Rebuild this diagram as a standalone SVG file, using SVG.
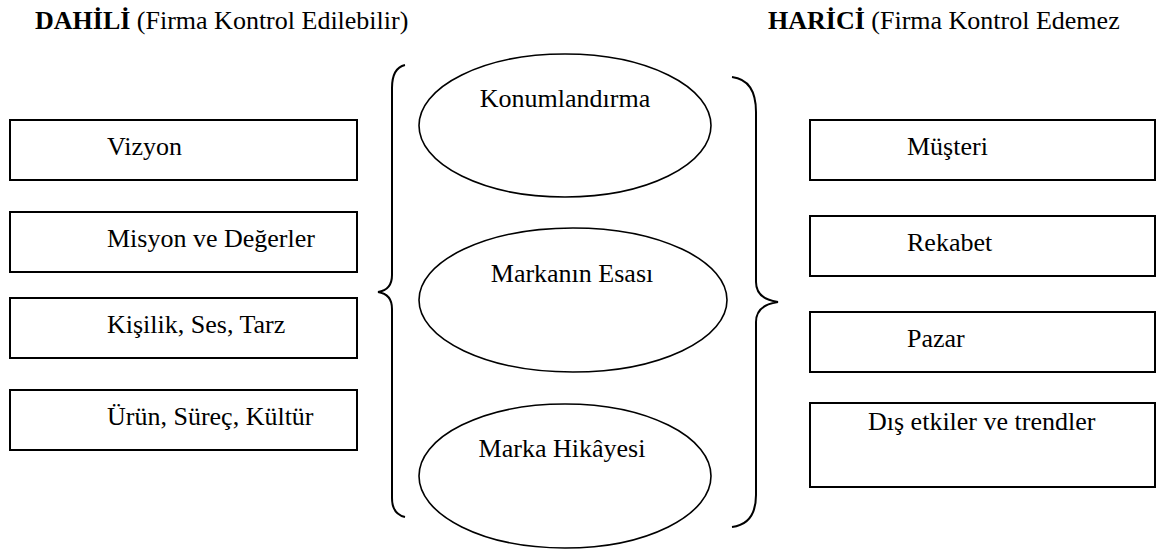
<svg xmlns="http://www.w3.org/2000/svg" width="1157" height="550" viewBox="0 0 1157 550" font-family="Times New Roman, Liberation Serif, serif">
<rect width="1157" height="550" fill="#fff"/>
<g id="headers">
<text x="35" y="29" font-family="Tinos, Liberation Serif, serif" font-size="26"><tspan font-weight="bold">DAHİLİ</tspan><tspan font-weight="normal"> (Firma Kontrol Edilebilir)</tspan></text>
<text x="768" y="29" font-family="Tinos, Liberation Serif, serif" font-size="26"><tspan font-weight="bold">HARİCİ</tspan><tspan font-weight="normal"> (Firma Kontrol Edemez</tspan></text>
</g>
<g id="n-vizyon"><rect x="10" y="120" width="347" height="60" fill="#fff" stroke="#000" stroke-width="2"/><text x="107" y="155" font-family="Tinos, Liberation Serif, serif" font-size="26">Vizyon</text></g>
<g id="n-misyon"><rect x="10" y="212" width="347" height="60" fill="#fff" stroke="#000" stroke-width="2"/><text x="107" y="247" font-family="Tinos, Liberation Serif, serif" font-size="26">Misyon ve Değerler</text></g>
<g id="n-kisilik"><rect x="10" y="298" width="347" height="60" fill="#fff" stroke="#000" stroke-width="2"/><text x="107" y="333" font-family="Tinos, Liberation Serif, serif" font-size="26">Kişilik, Ses, Tarz</text></g>
<g id="n-urun"><rect x="10" y="390" width="347" height="60" fill="#fff" stroke="#000" stroke-width="2"/><text x="107" y="425" font-family="Tinos, Liberation Serif, serif" font-size="26">Ürün, Süreç, Kültür</text></g>
<g id="n-konum"><ellipse cx="565" cy="125.5" rx="146" ry="71.5" fill="#fff" stroke="#000" stroke-width="1.6"/><text text-anchor="middle" x="565" y="107" font-family="Tinos, Liberation Serif, serif" font-size="26">Konumlandırma</text></g>
<g id="n-esas"><ellipse cx="573" cy="300" rx="154" ry="72" fill="#fff" stroke="#000" stroke-width="1.6"/><text text-anchor="middle" x="572" y="282" font-family="Tinos, Liberation Serif, serif" font-size="26">Markanın Esası</text></g>
<g id="n-hikaye"><ellipse cx="565" cy="476" rx="146" ry="72" fill="#fff" stroke="#000" stroke-width="1.6"/><text text-anchor="middle" x="562" y="457" font-family="Tinos, Liberation Serif, serif" font-size="26">Marka Hikâyesi</text></g>
<g id="n-musteri"><rect x="810" y="120" width="345" height="60" fill="#fff" stroke="#000" stroke-width="2"/><text x="907" y="155" font-family="Tinos, Liberation Serif, serif" font-size="26">Müşteri</text></g>
<g id="n-rekabet"><rect x="810" y="216" width="345" height="60" fill="#fff" stroke="#000" stroke-width="2"/><text x="907" y="251" font-family="Tinos, Liberation Serif, serif" font-size="26">Rekabet</text></g>
<g id="n-pazar"><rect x="810" y="312" width="345" height="60" fill="#fff" stroke="#000" stroke-width="2"/><text x="907" y="347" font-family="Tinos, Liberation Serif, serif" font-size="26">Pazar</text></g>
<g id="n-dis"><rect x="810" y="403" width="345" height="84" fill="#fff" stroke="#000" stroke-width="2"/><text x="868" y="430" font-family="Tinos, Liberation Serif, serif" font-size="26">Dış etkiler ve trendler</text></g>
<g id="connectors" fill="none" stroke="#000" stroke-width="2">
<path d="M405 65 Q392 68 392 88 L392 275 Q392 290 378 292 Q392 294 392 309 L392 498 Q392 514 405 517"/>
<path d="M732 77 Q756 80 756 112 L756 282 Q756 299 778 302 Q756 305 756 322 L756 495 Q756 524 732 527"/>
</g>
</svg>
